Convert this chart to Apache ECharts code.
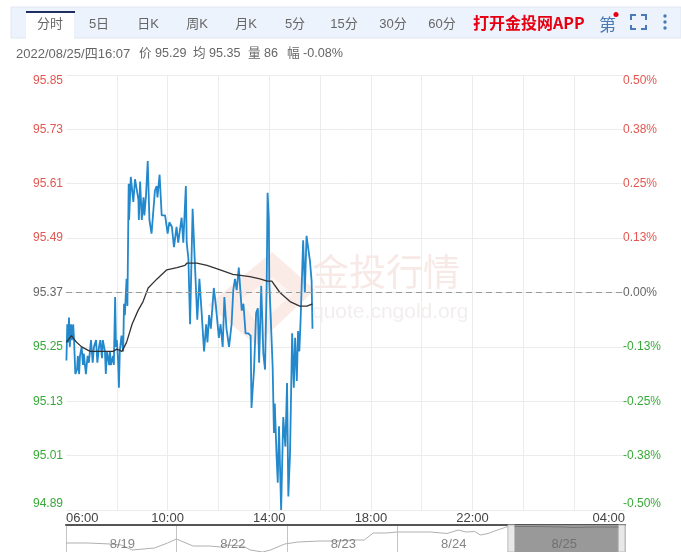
<!DOCTYPE html>
<html><head><meta charset="utf-8">
<script src="https://cdn.jsdelivr.net/npm/echarts@6/dist/echarts.min.js"></script>
<style>html,body{margin:0;padding:0;background:#fff}#c{width:681px;height:552px}</style>
</head><body><div id="c"></div>
<script>
const FONT = '"Liberation Sans","Noto Sans CJK SC",sans-serif';
const tabs = ['分时','5日','日K','周K','月K','5分','15分','30分','60分'];
const promo = '打开金投网APP';
const stamp = '2022/08/25/四16:07';
const stats = ['价 95.29','均 95.35','量 86','幅 -0.08%'];
const basePrice = 95.37;
const priceMin = 94.89, priceMax = 95.85, priceStep = 0.12;
const pctMin = -0.5, pctMax = 0.5, pctStep = 0.125;
const timeLabels = {0:'06:00',240:'10:00',480:'14:00',720:'18:00',960:'22:00',1320:'04:00'};

const priceMinutes = [1,3,5,7,9,12,14,17,19,22,26,28,31,33,37,40,42,47,51,54,59,63,66,71,74,78,81,85,87,92,94,97,102,104,106,111,113,116,118,120,123,125,127,131,135,137,139,143,145,148,149,153,159,163,167,171,172,175,179,183,185,189,193,197,202,210,214,216,221,226,234,240,244,250,255,261,265,273,277,283,285,289,293,299,305,310,315,320,326,331,334,338,342,349,354,361,365,370,374,379,385,391,395,399,403,408,415,419,424,430,436,438,444,449,453,456,461,466,470,474,476,479,480,483,488,491,493,497,500,503,508,513,518,522,525,529,534,538,541,545,548,551,554,560,564,568,572,576,580,582];
const priceValues = [95.22,95.30,95.26,95.315,95.25,95.30,95.265,95.30,95.265,95.19,95.20,95.23,95.19,95.23,95.25,95.21,95.235,95.19,95.23,95.215,95.265,95.215,95.25,95.265,95.215,95.25,95.265,95.225,95.265,95.24,95.19,95.24,95.21,95.24,95.21,95.23,95.21,95.36,95.25,95.265,95.22,95.16,95.24,95.275,95.24,95.345,95.32,95.40,95.34,95.61,95.53,95.625,95.57,95.62,95.62,95.575,95.53,95.615,95.53,95.58,95.54,95.585,95.66,95.53,95.50,95.595,95.605,95.58,95.63,95.54,95.54,95.50,95.525,95.515,95.47,95.515,95.48,95.535,95.48,95.605,95.48,95.445,95.30,95.555,95.42,95.31,95.40,95.33,95.24,95.30,95.26,95.32,95.29,95.38,95.34,95.27,95.30,95.25,95.36,95.29,95.25,95.30,95.375,95.40,95.375,95.425,95.33,95.345,95.28,95.28,95.275,95.115,95.20,95.325,95.335,95.215,95.385,95.235,95.20,95.395,95.59,95.53,95.395,95.325,95.205,95.06,95.125,95.015,94.95,95.075,94.89,95.095,95.03,95.17,94.92,95.015,95.28,95.16,95.27,95.175,95.285,95.24,95.31,95.485,95.37,95.495,95.495,95.44,95.395,95.29];
const avgMinutes = [1,13,25,37,57,80,111,120,132,143,156,170,182,194,215,238,262,281,286,309,333,364,394,434,458,475,486,505,529,552,569,582];
const avgValues = [95.26,95.275,95.26,95.25,95.24,95.24,95.24,95.245,95.24,95.26,95.30,95.33,95.35,95.38,95.40,95.42,95.425,95.43,95.435,95.435,95.43,95.42,95.41,95.405,95.40,95.395,95.395,95.37,95.35,95.34,95.34,95.345];

const navDays = ['8/19','8/22','8/23','8/24','8/25'];
const navPos = [0,0.2,0.4,0.5,0.6,0.8,0.92,1.0,1.15,1.3,1.4,1.45,1.6,1.67,1.78,1.85,1.98,2.1,2.3,2.45,2.6,2.7,2.78,2.9,3.0,3.3,3.45,3.55,3.62,3.7,3.75,3.82,3.88,4.0];
const navLevel = [9,9,8,7,2,4,9,13,6,6,5,7,6,2,0,2,8,10,11,11,12,12,19,19,20,20,18.5,22,20,20.5,17,18.5,21,25.5];
const selPos = [4.06,4.3,4.5,4.6,4.8,5.0];
const selLevel = [25.5,25.5,25,24.5,25,25];

const chart = echarts.init(document.getElementById('c'), null, {renderer:'canvas'});
const txt = (x,y,text,o={}) => ({type:'text',x,y,silent:true,style:Object.assign({text,font:'12px '+FONT,fill:'#666',verticalAlign:'middle'},o)});
const tabCenters = [50,99,148,197,246,295,344,393,442];
const statX = [139,193,248,287];
const graphic = [
  {type:'rect',z:-2,shape:{x:11,y:7,width:670,height:31},style:{fill:'#edf3fc',stroke:'#e0e7f1',lineWidth:1}},
  {type:'rect',z:-1,shape:{x:26,y:12,width:48,height:27},style:{fill:'#fff'}},
  {type:'rect',z:-1,shape:{x:26,y:11,width:49,height:2},style:{fill:'#1c2f5f'}},
  ...tabs.map((t,i)=>txt(tabCenters[i],24.5,t,{textAlign:'center',fill:'#666',font:'13px '+FONT})),
  txt(473,23,promo,{fill:'#e60012',font:'bold 16px "Noto Sans CJK SC",sans-serif'}),
  txt(599,24.5,'第',{fill:'#4a7ab5',font:'17px "Noto Sans CJK SC",sans-serif'}),
  {type:'circle',shape:{cx:616,cy:14.5,r:2.5},style:{fill:'#e60012'}},
  {type:'polyline',shape:{points:[[631,20],[631,15],[636,15]]},style:{stroke:'#4a7ab5',lineWidth:2,fill:null}},
  {type:'polyline',shape:{points:[[641,15],[646,15],[646,20]]},style:{stroke:'#4a7ab5',lineWidth:2,fill:null}},
  {type:'polyline',shape:{points:[[631,25],[631,29],[636,29]]},style:{stroke:'#4a7ab5',lineWidth:2,fill:null}},
  {type:'polyline',shape:{points:[[641,29],[646,29],[646,25]]},style:{stroke:'#4a7ab5',lineWidth:2,fill:null}},
  {type:'circle',shape:{cx:665,cy:16,r:1.7},style:{fill:'#4a7ab5'}},
  {type:'circle',shape:{cx:665,cy:22,r:1.7},style:{fill:'#4a7ab5'}},
  {type:'circle',shape:{cx:665,cy:28,r:1.7},style:{fill:'#4a7ab5'}},
  txt(16,54,stamp,{fill:'#666',font:'13px '+FONT}),
  ...stats.map((t,i)=>txt(statX[i],54,t,{fill:'#666',font:'12.6px '+FONT})),
  {type:'polygon',z:-1,shape:{points:[[208,305],[272,252],[315,290],[256,345]]},style:{fill:'#fbebe6'}},
  {type:'polygon',z:-1,shape:{points:[[240,300],[272,277],[293,294],[258,325]]},style:{fill:'#fdf5f2'}},
  txt(312,272,'金投行情',{z:-1,fill:'#f7e9e5',font:'37px "Noto Sans CJK SC",sans-serif'}),
  txt(312,312,'quote.cngold.org',{z:-1,fill:'#f2eeee',font:'21px '+FONT})
];
graphic.forEach(g=>{ if(g.z===undefined) g.z=10; });

const priceColor = v => Math.abs(v-basePrice)<0.001 ? '#666' : (v>basePrice ? '#e2574f' : '#38a938');
const option = {
  animation:false,
  graphic,
  grid:[
    {left:66,top:75,width:559,height:435},
    {left:66,top:525,width:559,height:27}
  ],
  xAxis:[
    {type:'value',gridIndex:0,min:0,max:1320,interval:120,
      axisLine:{show:true,lineStyle:{color:'#eaeaea'}},axisTick:{show:false},
      splitLine:{show:true,showMinLine:false,showMaxLine:false,lineStyle:{color:'#ececec'}},
      axisLabel:{show:true,margin:2,color:'#444',fontSize:13,fontFamily:FONT,alignMinLabel:'left',alignMaxLabel:'right',hideOverlap:false,
        showMinLabel:true,showMaxLabel:true,formatter:v=>timeLabels[v]||''}},
    {type:'value',gridIndex:1,min:0,max:5.06,interval:1,position:'top',
      axisLine:{show:true,onZero:false,lineStyle:{color:'#555',width:2}},axisTick:{show:false},axisLabel:{show:false},
      splitLine:{show:true,lineStyle:{color:'#c4c4c4'}}}
  ],
  yAxis:[
    {type:'value',gridIndex:0,min:priceMin,max:priceMax,interval:priceStep,
      axisLine:{show:false},axisTick:{show:false},
      splitLine:{lineStyle:{color:'#ececec'}},
      axisLabel:{margin:3,fontSize:12,fontFamily:FONT,verticalAlignMinLabel:'bottom',verticalAlignMaxLabel:'top',
        formatter:v=>v.toFixed(2),color:v=>priceColor(+v)}},
    {type:'value',gridIndex:0,position:'right',min:pctMin,max:pctMax,interval:pctStep,
      axisLine:{show:false},axisTick:{show:false},splitLine:{show:false},
      axisLabel:{margin:-2,align:'left',fontSize:12,fontFamily:FONT,verticalAlignMinLabel:'bottom',verticalAlignMaxLabel:'top',
        formatter:v=>v.toFixed(2)+'%',color:v=>{v=parseFloat(v);return v===0?'#666':(v>0?'#e2574f':'#38a938');}}},
    {type:'value',gridIndex:1,min:0,max:27,show:false}
  ],
  series:[
    {type:'line',xAxisIndex:0,yAxisIndex:0,symbol:'none',silent:true,
      data:priceMinutes.map((m,i)=>[m,priceValues[i]]),
      lineStyle:{color:'#2388cc',width:1.8},
      markLine:{silent:true,symbol:'none',label:{show:false},
        lineStyle:{color:'#999',type:[6,4],width:1},data:[{yAxis:basePrice}]}},
    {type:'line',xAxisIndex:0,yAxisIndex:0,symbol:'none',silent:true,
      data:avgMinutes.map((m,i)=>[m,avgValues[i]]),
      lineStyle:{color:'#333',width:1.3}},
    {type:'line',xAxisIndex:1,yAxisIndex:2,symbol:'none',silent:true,
      data:navPos.map((d,i)=>[d,navLevel[i]]),
      lineStyle:{color:'#b0b0b0',width:1},
      markArea:{silent:true,data:[
        [{xAxis:4.06,itemStyle:{color:'#999'}},{xAxis:5.0}],
        [{xAxis:4.0,itemStyle:{color:'#e8e8e8',borderColor:'#bbb',borderWidth:1}},{xAxis:4.06}],
        [{xAxis:5.0,itemStyle:{color:'#e8e8e8',borderColor:'#bbb',borderWidth:1}},{xAxis:5.06}]
      ]}},
    {type:'line',xAxisIndex:1,yAxisIndex:2,symbol:'none',silent:true,z:4,
      data:selPos.map((d,i)=>[d,selLevel[i]]),lineStyle:{color:'#777',width:1}},
    {type:'scatter',xAxisIndex:1,yAxisIndex:2,symbolSize:0,silent:true,z:5,
      data:navDays.map((d,i)=>[i+0.51,8,d]),
      label:{show:true,position:'inside',fontSize:13,fontFamily:FONT,color:'#666',formatter:p=>p.data[2]}}
  ]
};
chart.setOption(option);
</script></body></html>
